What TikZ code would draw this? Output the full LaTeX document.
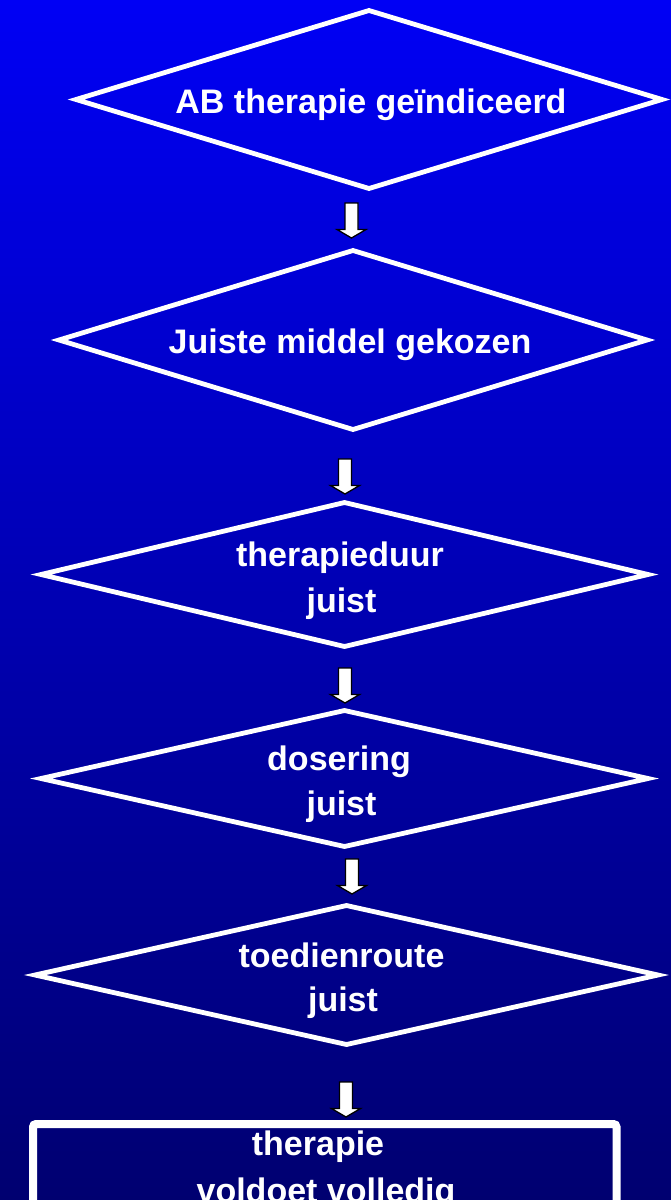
\documentclass[tikz,border=0pt]{standalone}
\usepackage{fontspec}
\setmainfont{Liberation Sans}
\usetikzlibrary{shapes.geometric}
\definecolor{bgtop}{RGB}{0,0,245}
\definecolor{bgmid}{RGB}{0,0,182}
\definecolor{bgbot}{RGB}{0,0,112}
\tikzset{
  decision/.style={shape=diamond, draw=white, line width=4.8pt, inner sep=0pt, outer sep=0pt, line join=miter},
  lbl/.style={text=white, font=\bfseries\fontsize{34}{46}\selectfont, anchor=base, inner sep=0pt},
  resultbox/.style={draw=white, line width=8pt, rounded corners=3pt, inner sep=0pt, outer sep=0pt, anchor=north west},
  blockarr/.pic={\path[draw=black, fill=white, line width=1.3pt, line join=miter]
    (-6.5,0) -- (6.5,0) -- (6.5,26.5) -- (14.5,26.5) -- (0,35) -- (-14.5,26.5) -- (-6.5,26.5) -- cycle;}
}
\begin{document}
\begin{tikzpicture}[x=1pt,y=-1pt]
\useasboundingbox (0,0) rectangle (671,1200);
\clip (0,0) rectangle (671,1200);
\shade[top color=bgtop, middle color=bgmid, bottom color=bgbot] (0,0) rectangle (671,1200);

% decisions
\node[decision, minimum width=586, minimum height=178] (d1) at (369,99.5) {};
\node[decision, minimum width=588, minimum height=179] (d2) at (353,340) {};
\node[decision, minimum width=607, minimum height=144] (d3) at (344.5,574.5) {};
\node[decision, minimum width=607, minimum height=136] (d4) at (344.5,778.5) {};
\node[decision, minimum width=623, minimum height=139] (d5) at (346.5,975) {};
\node[resultbox, minimum width=583.5, minimum height=140] (res) at (33,1124) {};

% labels
\node[lbl] (t1) at (371,113) {AB therapie geïndiceerd};
\node[lbl] (t2) at (350,353) {Juiste middel gekozen};
\node[lbl] (t3a) at (340,566) {therapieduur};
\node[lbl] (t3b) at (341.5,612) {juist};
\node[lbl] (t4a) at (339,770) {dosering};
\node[lbl] (t4b) at (341.5,815) {juist};
\node[lbl] (t5a) at (341.5,967) {toedienroute};
\node[lbl] (t5b) at (343,1011) {juist};
\node[lbl] (r1) at (318,1155) {therapie};
\node[lbl] (r2) at (326,1202) {voldoet volledig};

% block arrows
\pic (a1) at (351.5,203) {blockarr};
\pic (a2) at (345,459) {blockarr};
\pic (a3) at (345,668) {blockarr};
\pic (a4) at (352,859) {blockarr};
\pic (a5) at (346,1082) {blockarr};
\end{tikzpicture}
\end{document}
